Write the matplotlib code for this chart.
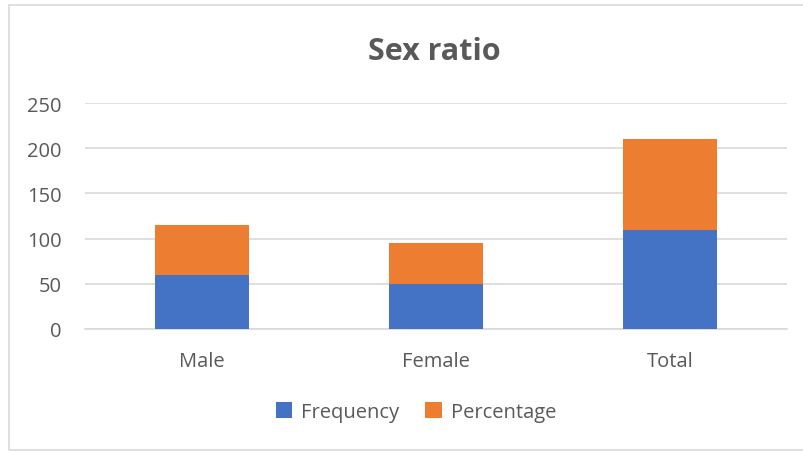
import matplotlib
matplotlib.use("Agg")
import matplotlib.pyplot as plt
from matplotlib.patches import Rectangle

categories = ["Male", "Female", "Total"]
frequency = [60, 50, 110]
percentage = [54.5, 45.5, 100]
y_ticks = [0, 50, 100, 150, 200, 250]

blue = "#4472C4"
orange = "#ED7D31"
grey = "#595959"
grid = "#D9D9D9"

plt.rcParams['font.family'] = ['Open Sans', 'DejaVu Sans']

W, H = 804, 452
fig = plt.figure(figsize=(W / 100, H / 100), dpi=100)
fig.patch.set_facecolor("white")

# outer chart border
fig.patches.append(Rectangle((8.5 / W, 1 - 451 / H), (W + 5 - 8.5) / W, (451 - 6) / H,
                             transform=fig.transFigure, fill=False,
                             edgecolor="#D9D9D9", linewidth=1.2))

left, right = 85 / W, 787 / W
bottom, top = 1 - 329.7 / H, 1 - 104.3 / H
ax = fig.add_axes([left, bottom, right - left, top - bottom])

x = list(range(len(categories)))
ax.bar(x, frequency, width=0.4, color=blue, label="Frequency", zorder=3)
ax.bar(x, percentage, width=0.4, bottom=frequency, color=orange, label="Percentage", zorder=3)

ax.set_xlim(-0.5, len(categories) - 0.5)
ax.set_ylim(0, 250)
ax.set_yticks(y_ticks)
ax.set_xticks(x)
ax.set_xticklabels(categories)
ax.yaxis.grid(True, color=grid, linewidth=1.2, zorder=0)
ax.set_axisbelow(True)
for s in ["top", "right", "left"]:
    ax.spines[s].set_visible(False)
ax.spines["bottom"].set_color(grid)
ax.spines["bottom"].set_linewidth(1.2)
ax.tick_params(axis="both", length=0, colors=grey, labelsize=14.5)
ax.tick_params(axis="x", pad=16)
ax.tick_params(axis="y", pad=17)

fig.text(434 / W, 1 - 52 / H, "Sex ratio", ha="center", va="center",
         fontsize=22, fontweight="bold", color=grey)

leg = fig.legend(loc="center", bbox_to_anchor=(416 / W, 1 - 413 / H), ncol=2,
                 frameon=False, fontsize=14.5, handlelength=0.8, handleheight=0.8,
                 handletextpad=0.45, columnspacing=1.3, labelcolor=grey)

fig.savefig("out.png", dpi=100, facecolor="white")
